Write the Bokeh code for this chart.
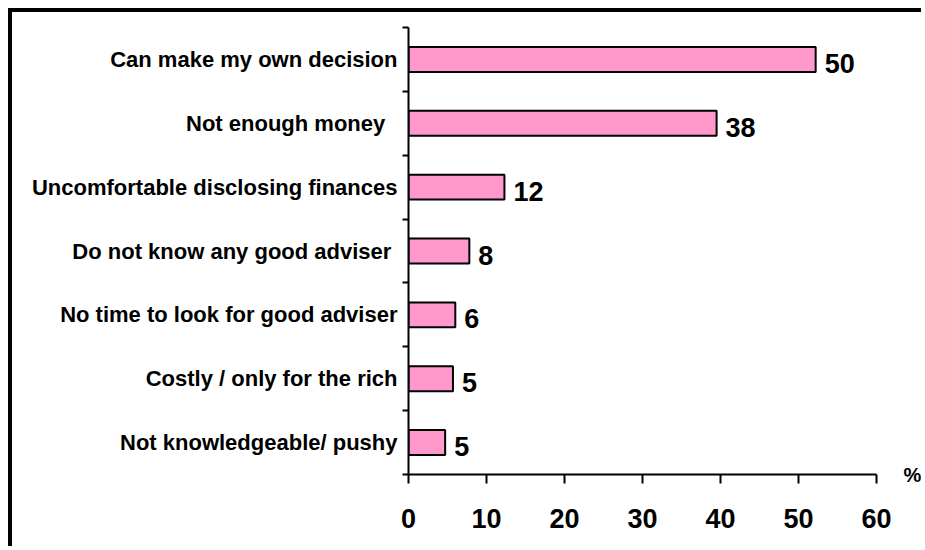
from bokeh.plotting import figure
from bokeh.models import Range1d, FixedTicker, ColumnDataSource, LinearAxis
from bokeh.embed import file_html
from bokeh.resources import INLINE
from bokeh.core.properties import value

# ---- data ----
categories = [
    "Can make my own decision",
    "Not enough money\u00a0\u00a0",
    "Uncomfortable disclosing finances",
    "Do not know any good adviser\u00a0",
    "No time to look for good adviser",
    "Costly / only for the rich",
    "Not knowledgeable/ pushy",
]
bar_values = [52.2, 39.5, 12.3, 7.8, 6.0, 5.7, 4.7]   # drawn bar lengths (%)
value_labels = ["50", "38", "12", "8", "6", "5", "5"]  # printed percentages
x_ticks = [0, 10, 20, 30, 40, 50, 60]
unit_label = "%"

n = len(categories)
centers = [n - i - 0.5 for i in range(n)]
bounds = list(range(n + 1))

FONT = "Liberation Sans"

p = figure(width=913, height=538, output_backend="svg", toolbar_location=None,
           x_range=Range1d(0, 60), y_range=Range1d(0, n),
           min_border_left=396, min_border_right=49,
           min_border_top=15, min_border_bottom=76)
p.styles = {"position": "absolute", "left": "8px", "top": "8px",
            "border-left": "4px solid black", "border-top": "4px solid black"}
p.outline_line_color = None
p.background_fill_color = "white"
p.border_fill_color = "white"
p.xgrid.visible = False
p.ygrid.visible = False

src = ColumnDataSource(dict(y=centers, right=bar_values, label=value_labels))
p.hbar(y="y", left=0, right="right", height=0.39, source=src,
       fill_color="#FF99CC", line_color="black", line_width=2)
p.text(x="right", y="y", text="label", source=src, x_offset=9, y_offset=4,
       text_font=value(FONT), text_font_style="bold", text_font_size="27px",
       text_baseline="middle", text_align="left", text_color="black")

# y axis: labels at centres, ticks at boundaries
ya = p.yaxis[0]
ya.ticker = FixedTicker(ticks=centers, minor_ticks=bounds)
ya.major_label_overrides = {c: lab for c, lab in zip(centers, categories)}
ya.major_tick_out = 0
ya.major_tick_in = 0
ya.minor_tick_out = 6
ya.minor_tick_in = 0
ya.minor_tick_line_color = "black"
ya.minor_tick_line_width = 2
ya.axis_line_width = 2
ya.axis_line_color = "black"
ya.major_label_standoff = 5
ya.major_label_text_font = FONT
ya.major_label_text_font_style = "bold"
ya.major_label_text_font_size = "22px"
ya.major_label_text_color = "black"

xa = p.xaxis[0]
xa.ticker = FixedTicker(ticks=x_ticks)
xa.minor_tick_line_color = None
xa.major_tick_out = 9
xa.major_tick_in = 0
xa.major_tick_line_width = 2
xa.major_tick_line_color = "black"
xa.axis_line_width = 2
xa.axis_line_color = "black"
xa.major_label_standoff = 25
xa.major_label_text_font = FONT
xa.major_label_text_font_style = "bold"
xa.major_label_text_font_size = "27px"
xa.major_label_text_color = "black"

# "%" unit next to the end of the x axis, drawn as a right-axis label at y=0
ra = LinearAxis(ticker=FixedTicker(ticks=[0]),
                major_label_overrides={0: unit_label},
                axis_line_color=None, major_tick_line_color=None,
                minor_tick_line_color=None, major_label_standoff=21,
                major_label_text_font=FONT, major_label_text_font_style="bold",
                major_label_text_font_size="20px", major_label_text_color="black")
p.add_layout(ra, "right")

open("out.html", "w").write(file_html(p, INLINE))
